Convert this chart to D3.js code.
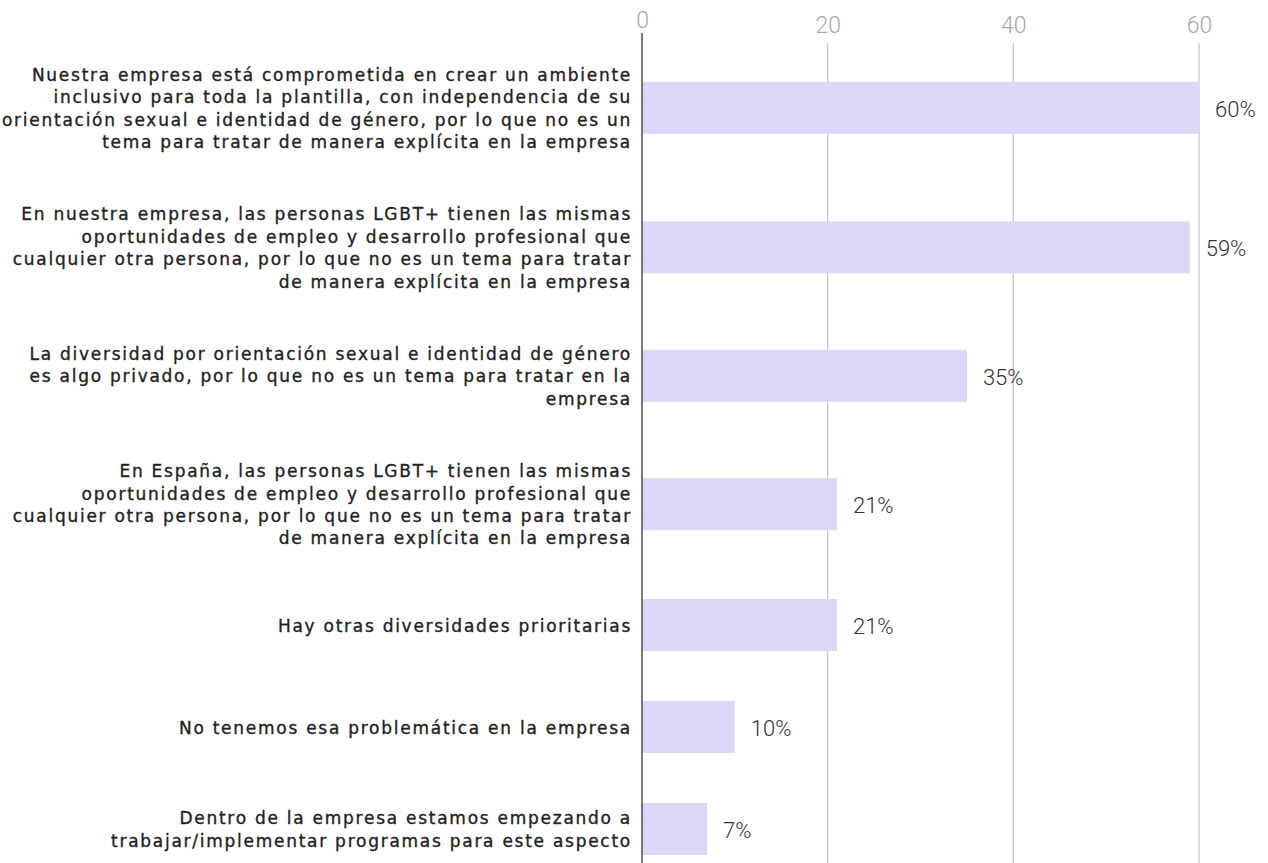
<!DOCTYPE html>
<html><head><meta charset="utf-8">
<script src="https://cdn.jsdelivr.net/npm/d3@7"></script>
<style>body{margin:0;background:#fff}svg{display:block}</style>
</head><body><svg id="c" width="1268" height="863"></svg>
<script>
const categories = [
  ["Nuestra empresa está comprometida en crear un ambiente","inclusivo para toda la plantilla, con independencia de su","orientación sexual e identidad de género, por lo que no es un","tema para tratar de manera explícita en la empresa"],
  ["En nuestra empresa, las personas LGBT+ tienen las mismas","oportunidades de empleo y desarrollo profesional que","cualquier otra persona, por lo que no es un tema para tratar","de manera explícita en la empresa"],
  ["La diversidad por orientación sexual e identidad de género","es algo privado, por lo que no es un tema para tratar en la","empresa"],
  ["En España, las personas LGBT+ tienen las mismas","oportunidades de empleo y desarrollo profesional que","cualquier otra persona, por lo que no es un tema para tratar","de manera explícita en la empresa"],
  ["Hay otras diversidades prioritarias"],
  ["No tenemos esa problemática en la empresa"],
  ["Dentro de la empresa estamos empezando a","trabajar/implementar programas para este aspecto"]
];
const values = [60, 59, 35, 21, 21, 10, 7];
const ticks = [0, 20, 40, 60];

const svg = d3.select("#c");
const W = 1268, H = 863;
const x = d3.scaleLinear().domain([0, 60]).range([642, 1199]);
const lineH = 22.4, barH = 52, gap = 50, top0 = 63;

// row layout computed from label line counts
const rows = [];
let yCur = top0;
categories.forEach((lines, i) => {
  const h = Math.max(barH, lines.length * lineH);
  rows.push({lines, v: values[i], top: yCur, h, c: yCur + h / 2});
  yCur += h + gap;
});

// gridlines
svg.append("g").selectAll("line").data(ticks.filter(t => t > 0)).join("line")
  .attr("x1", d => x(d)).attr("x2", d => x(d)).attr("y1", 43).attr("y2", H)
  .attr("stroke", "#c8c8c8").attr("stroke-width", 1.3);

// axis labels
const ax = d3.axisTop(x).tickValues(ticks).tickSize(0).tickPadding(0);
const axg = svg.append("g").attr("transform", "translate(0,33)").call(ax);
axg.select(".domain").remove();
axg.selectAll("text").attr("font-family", "Roboto").attr("font-weight", 300)
  .attr("font-size", 23).attr("fill", "#a8a8a8").attr("dy", 0)
  .attr("y", d => d === 0 ? -5 : 0);

// bars
svg.append("g").selectAll("rect").data(rows).join("rect")
  .attr("x", x(0)).attr("y", d => d.c - barH / 2)
  .attr("width", d => x(d.v) - x(0)).attr("height", barH)
  .attr("fill", "#dcd6f7");

// zero line
svg.append("line").attr("x1", x(0)).attr("x2", x(0)).attr("y1", 33).attr("y2", H)
  .attr("stroke", "#333").attr("stroke-width", 1.3);

// value labels
svg.append("g").selectAll("text").data(rows).join("text")
  .attr("x", d => x(d.v) + 16).attr("y", d => d.c + 9)
  .attr("font-family", "Roboto").attr("font-weight", 300).attr("font-size", 22)
  .attr("fill", "#333").text(d => d.v + "%");

// category labels
const lg = svg.append("g").selectAll("text").data(rows).join("text")
  .attr("text-anchor", "end").attr("font-family", "'DejaVu Sans'")
  .attr("font-size", 17).attr("fill", "#222")
  .attr("stroke", "#222").attr("stroke-width", 0.35);
lg.each(function(d) {
  const t = d3.select(this);
  const n = d.lines.length;
  d.lines.forEach((l, j) => {
    t.append("tspan").attr("x", 632)
      .attr("y", d.c + (j - (n - 1) / 2) * lineH + 6.5).text(l);
  });
});
// fit letter-spacing so the first label's first line spans its reference width
const probe = lg.filter((d, i) => i === 0).select("tspan").node();
const w0 = probe.getComputedTextLength();
let ls = (612 - w0) / (categories[0][0].length);
// keep the widest line inside the left edge
let maxW = 0, maxN = 1;
lg.selectAll("tspan").each(function() {
  const w = this.getComputedTextLength();
  if (w > maxW) { maxW = w; maxN = this.textContent.length; }
});
ls = Math.min(ls, (630 - maxW) / maxN);
lg.attr("letter-spacing", ls.toFixed(3));
</script></body></html>
